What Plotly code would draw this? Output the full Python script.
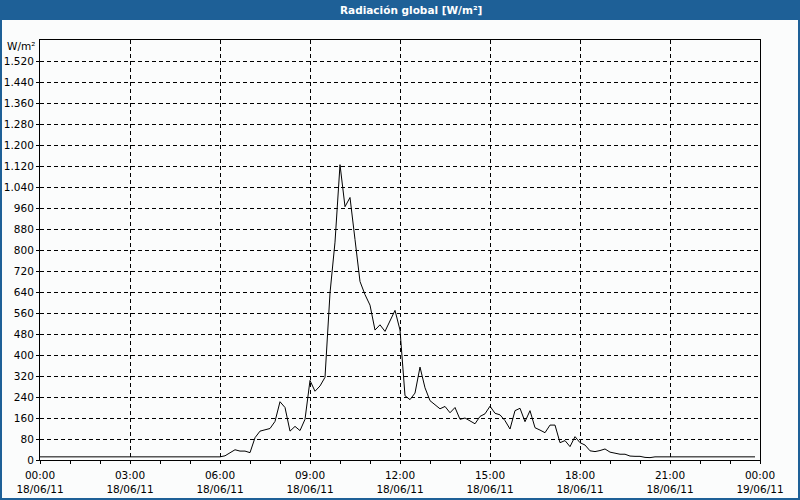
import plotly.graph_objects as go
import pandas as pd

# ---- data (10-minute readings, 18/06/11) ----
times = pd.date_range("2011-06-18 00:00", periods=144, freq="10min")
radiation = [
    12, 12, 12, 12, 12, 12,   # 00:00
    12, 12, 12, 12, 12, 12,   # 01:00
    12, 12, 12, 12, 12, 12,   # 02:00
    12, 12, 12, 12, 12, 12,   # 03:00
    12, 12, 12, 12, 12, 12,   # 04:00
    12, 12, 12, 12, 12, 12,   # 05:00
    12, 16, 29, 39, 34, 34,   # 06:00
    28, 85, 110, 116, 120, 147,   # 07:00
    222, 200, 110, 128, 112, 155,  # 08:00
    303, 262, 282, 315, 636, 830,  # 09:00
    1125, 965, 1000, 840, 680, 630,  # 10:00
    590, 495, 515, 490, 530, 570,  # 11:00
    495, 245, 230, 255, 354, 275,  # 12:00
    226, 212, 195, 204, 180, 200,  # 13:00
    155, 160, 150, 138, 166, 176,  # 14:00
    205, 178, 172, 150, 118, 188,  # 15:00
    197, 146, 188, 123, 114, 104,  # 16:00
    133, 133, 66, 74, 51, 89,      # 17:00
    66, 57, 35, 32, 36, 42,        # 18:00
    30, 25, 22, 22, 15, 14,        # 19:00
    14, 10, 9, 12, 12, 12,         # 20:00
    12, 12, 12, 12, 12, 12,        # 21:00
    12, 12, 12, 12, 12, 12,        # 22:00
    12, 12, 12, 12, 12, 12,        # 23:00
]

x_tick_vals = ["2011-06-18 00:00", "2011-06-18 03:00", "2011-06-18 06:00",
               "2011-06-18 09:00", "2011-06-18 12:00", "2011-06-18 15:00",
               "2011-06-18 18:00", "2011-06-18 21:00", "2011-06-19 00:00"]
x_tick_hours = ["00:00", "03:00", "06:00", "09:00", "12:00", "15:00",
                "18:00", "21:00", "00:00"]
x_tick_dates = ["18/06/11", "18/06/11", "18/06/11", "18/06/11", "18/06/11",
                "18/06/11", "18/06/11", "18/06/11", "19/06/11"]
y_tick_vals = list(range(0, 1521, 80))
y_tick_text = [f"{v:,}".replace(",", ".") for v in y_tick_vals]
minor_x = pd.date_range("2011-06-18 00:00", "2011-06-19 00:00", freq="1h")
x_range = ["2011-06-18 00:00", "2011-06-19 00:00"]

title_text = "Radiación global [W/m²]"
unit_text = "W/m²"

BLUE = "#1E6097"
BG = "#FBFCFC"
FONT = "DejaVu Sans"
FS = 10.5

fig = go.Figure()
fig.add_trace(go.Scatter(x=times, y=radiation, mode="lines",
                         line=dict(color="black", width=1), hoverinfo="skip"))

W, H = 800, 500
L, R, T, B = 40, 40, 40, 40
pw, ph = W - L - R, H - T - B

def px_x(p):
    return (p - L) / pw

def px_y(p):
    return (H - B - p) / ph

fig.update_layout(
    width=W, height=H,
    margin=dict(l=L, r=R, t=T, b=B, autoexpand=False),
    paper_bgcolor=BG, plot_bgcolor=BG,
    showlegend=False,
    font=dict(family=FONT, size=FS, color="black"),
    xaxis=dict(
        type="date", range=x_range, automargin=False,
        tickmode="array", tickvals=x_tick_vals, ticktext=x_tick_hours,
        ticks="outside", ticklen=3, tickcolor="black",
        ticklabelstandoff=2,
        showline=True, linecolor="black", linewidth=1, mirror=True,
        showgrid=True, gridcolor="black", gridwidth=1, griddash="4px,3px",
        zeroline=False,
        minor=dict(tickvals=list(minor_x), ticks="outside", ticklen=3,
                   tickcolor="black", showgrid=False),
        tickfont=dict(family=FONT, size=FS, color="black"),
    ),
    xaxis2=dict(
        type="date", range=x_range, automargin=False,
        overlaying="x", anchor="y", side="bottom",
        tickmode="array", tickvals=x_tick_vals, ticktext=x_tick_dates,
        ticks="", showline=False, showgrid=False, zeroline=False,
        ticklabelstandoff=21,
        tickfont=dict(family=FONT, size=FS, color="black"),
    ),
    yaxis=dict(
        range=[0, 1600], automargin=False,
        tickmode="array", tickvals=y_tick_vals, ticktext=y_tick_text,
        ticks="outside", ticklen=3, tickcolor="black",
        showline=True, linecolor="black", linewidth=1, mirror=True,
        showgrid=True, gridcolor="black", gridwidth=1, griddash="4px,3px",
        zeroline=False,
        tickfont=dict(family=FONT, size=FS, color="black"),
    ),
    shapes=[
        dict(type="rect", xref="paper", yref="paper",
             x0=px_x(0), x1=px_x(W), y0=px_y(20), y1=px_y(0),
             fillcolor=BLUE, line=dict(width=0), layer="above"),
        dict(type="rect", xref="paper", yref="paper",
             x0=px_x(1), x1=px_x(W - 1), y0=px_y(H - 1), y1=px_y(1),
             fillcolor="rgba(0,0,0,0)", line=dict(color=BLUE, width=2),
             layer="above"),
    ],
    annotations=[
        dict(text=f"<b>{title_text}</b>", xref="paper", yref="paper",
             x=px_x(411), y=px_y(10), xanchor="center", yanchor="middle",
             showarrow=False, font=dict(family=FONT, size=10.5, color="white")),
        dict(text=unit_text, xref="paper", yref="paper",
             x=px_x(37), y=px_y(46), xanchor="right", yanchor="middle",
             showarrow=False, font=dict(family=FONT, size=FS, color="black")),
    ],
)

# invisible helper trace so the overlaid date axis (second label row) is active
fig.add_trace(go.Scatter(x=[x_range[0]], y=[None], xaxis="x2",
                         mode="lines", showlegend=False, hoverinfo="skip"))

fig.write_html("out.html")
